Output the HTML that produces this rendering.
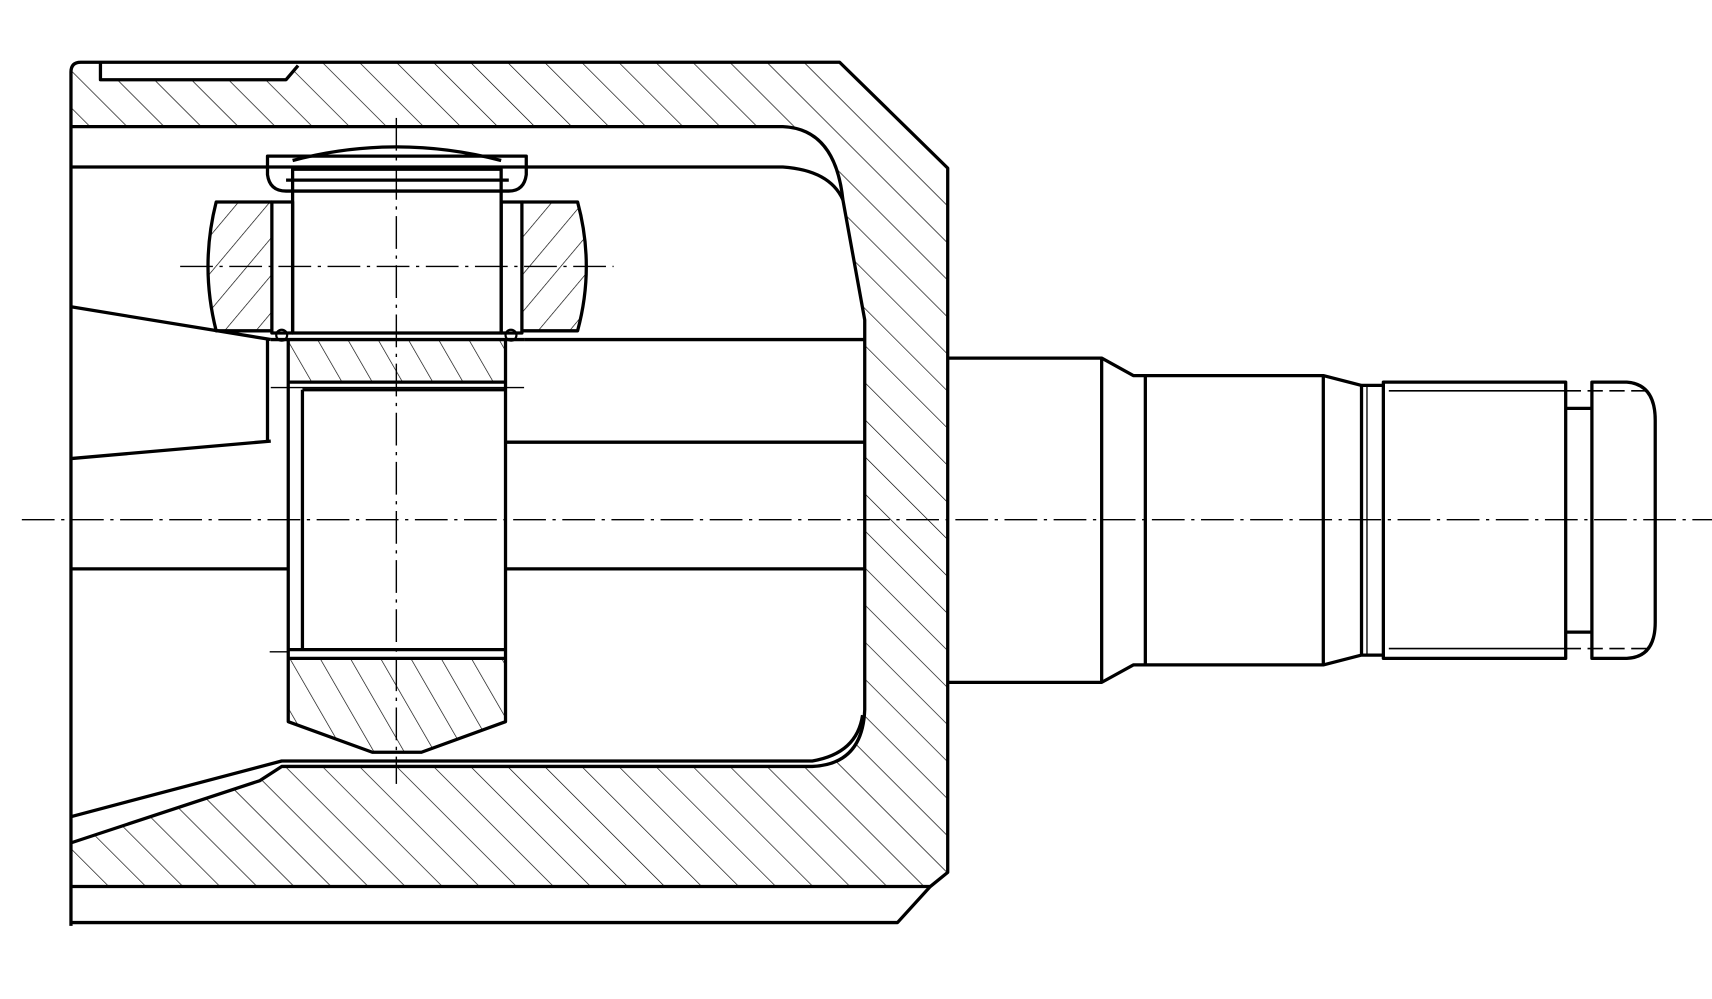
<!DOCTYPE html>
<html><head><meta charset="utf-8"><style>html,body{margin:0;padding:0;background:#fff}svg{display:block}</style></head>
<body>
<svg width="1712" height="999" viewBox="0 0 1568 915" preserveAspectRatio="none" xmlns="http://www.w3.org/2000/svg">
<defs>
<pattern id="h1" patternUnits="userSpaceOnUse" width="24" height="24" patternTransform="rotate(-45)">
<line x1="0" y1="0" x2="0" y2="24" stroke="#000" stroke-width="1.2"/></pattern>
<pattern id="h2" patternUnits="userSpaceOnUse" width="22" height="22" patternTransform="rotate(40)">
<line x1="0" y1="0" x2="0" y2="22" stroke="#000" stroke-width="1.2"/></pattern>
<pattern id="h3" patternUnits="userSpaceOnUse" width="24" height="24" patternTransform="rotate(-30)">
<line x1="0" y1="0" x2="0" y2="24" stroke="#000" stroke-width="1.2"/></pattern>
</defs>
<rect width="1568" height="915" fill="#fff"/>
<path fill="url(#h1)" fill-rule="evenodd" d="M65,57 L769,57 L868,154 L868,799 L852,812 L65,812 Z
 M65,116 L717,116 Q765,118 772,183 L792,293 L792,650 Q790,700 744,702 L258,702 L238,715 L65,772 Z"/>
<polygon points="92,57 273,57 262,73 92,73" fill="#fff"/>
<g fill="none" stroke="#000" stroke-width="3" stroke-linejoin="round">
<path d="M65,848 L65,66 Q65,57 74,57 L769,57 L868,154 L868,799 L852,812 L822,845 L65,845"/>
<path d="M92,57 L92,73 L262,73 L273,60"/>
<line x1="65" y1="812" x2="852" y2="812"/>
<path d="M65,116 L717,116 Q765,118 772,183 L792,293 L792,650 Q790,700 744,702 L258,702 L238,715 L65,772"/>
<path d="M65,153 L717,153 Q760,156 772,183"/>
<path d="M65,748 L258,697 L744,697 Q785,690 790,655"/>
<line x1="480" y1="311" x2="792" y2="311"/>
<line x1="463" y1="405" x2="792" y2="405"/>
<line x1="463" y1="521" x2="792" y2="521"/>
<line x1="65" y1="521" x2="264" y2="521"/>
<line x1="65" y1="281" x2="248" y2="311"/>
<line x1="65" y1="420" x2="248" y2="404"/>
<line x1="245" y1="311" x2="245" y2="404"/>
</g>
<path fill="url(#h3)" d="M264,603 L463,603 L463,661 L386,689 L341,689 L264,661 Z"/>
<path fill="url(#h3)" d="M264,311 L463,311 L463,350 L264,350 Z"/>
<g fill="none" stroke="#000" stroke-width="3" stroke-linejoin="round">
<path d="M264,311 L264,661 L341,689 L386,689 L463,661 L463,311"/>
<line x1="264" y1="350" x2="463" y2="350"/>
<line x1="277" y1="357" x2="463" y2="357"/>
<line x1="277" y1="357" x2="277" y2="595"/>
<line x1="264" y1="595" x2="463" y2="595"/>
<line x1="264" y1="603" x2="463" y2="603"/>
<line x1="248" y1="311" x2="480" y2="311"/>
</g>
<line x1="248" y1="355" x2="480" y2="355" stroke="#000" stroke-width="1.2"/>
<line x1="247" y1="597" x2="264" y2="597" stroke="#000" stroke-width="1.2"/>
<path fill="url(#h2)" d="M198,185 L249,185 L249,303 L198,303 Q183,244 198,185 Z"/>
<path fill="url(#h2)" d="M478,185 L529,185 Q545,244 529,303 L478,303 Z"/>
<g fill="none" stroke="#000" stroke-width="3" stroke-linejoin="round">
<path d="M249,185 L198,185 Q183,244 198,303 L249,303"/>
<path d="M478,185 L529,185 Q545,244 529,303 L478,303"/>
<rect x="249" y="185" width="19" height="120"/>
<rect x="459" y="185" width="19" height="120"/>
<rect x="268" y="175" width="191" height="130"/>
<path d="M245,143 L245,160 Q247,175 262,175 L268,175 L268,155 L459,155 L459,175 L466,175 Q480,175 482,160 L482,143 Z"/>
<line x1="262" y1="165" x2="466" y2="165"/>
<path d="M268,147 Q363,122 459,147"/>
</g>
<circle cx="258" cy="307" r="5" fill="none" stroke="#000" stroke-width="2"/>
<circle cx="468" cy="307" r="5" fill="none" stroke="#000" stroke-width="2"/>
<g fill="none" stroke="#000" stroke-width="3" stroke-linejoin="round">
<path d="M868,328 L1009,328 L1038,344 L1049,344 L1212,344 L1247,353 L1267,353"/>
<path d="M868,625 L1009,625 L1038,609 L1049,609 L1212,609 L1247,600 L1267,600"/>
<line x1="1009" y1="328" x2="1009" y2="625"/>
<line x1="1049" y1="344" x2="1049" y2="609"/>
<line x1="1212" y1="344" x2="1212" y2="609"/>
<line x1="1247" y1="353" x2="1247" y2="600"/>
<rect x="1267" y="350" width="167" height="253"/>
<path d="M1434,374 L1458,374 M1434,579 L1458,579"/>
<path d="M1458,350 L1490,350 Q1516,352 1516,385 L1516,570 Q1516,602 1490,603 L1458,603 Z"/>
</g>
<line x1="1252" y1="353" x2="1252" y2="600" stroke="#000" stroke-width="1.2"/>
<line x1="1272" y1="358" x2="1434" y2="358" stroke="#000" stroke-width="1.5"/>
<line x1="1272" y1="594" x2="1434" y2="594" stroke="#000" stroke-width="1.5"/>
<g stroke="#000" stroke-width="1.5" stroke-dasharray="14,6">
<line x1="1434" y1="358" x2="1510" y2="358"/>
<line x1="1434" y1="594" x2="1510" y2="594"/>
</g>
<g stroke="#000" stroke-width="1.3" stroke-dasharray="30,6,3,6">
<line x1="20" y1="476" x2="1568" y2="476"/>
<line x1="363" y1="108" x2="363" y2="718"/>
<line x1="165" y1="244" x2="562" y2="244"/>
</g>
</svg>
</body></html>
